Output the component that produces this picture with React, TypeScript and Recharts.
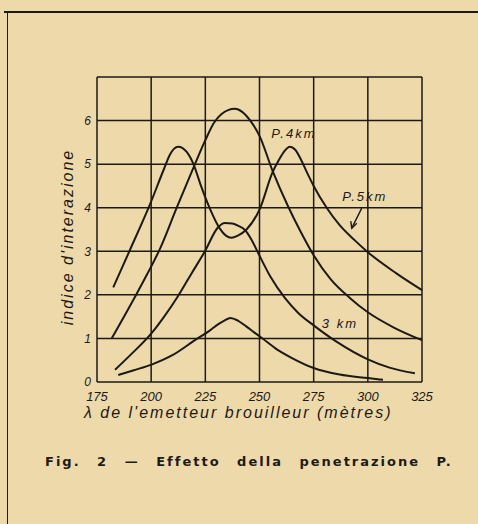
import { LineChart, Line, XAxis, YAxis, CartesianGrid, ReferenceDot } from 'recharts';

// wavelength of the interfering transmitter (m) and interference index, per curve
const p5Lambda = [182.5, 190.2, 199.4, 206, 208.7, 210.5, 212.5, 214.5, 216.4, 219.7, 223, 227.1, 231.7, 234.5, 237.1, 240, 244, 250.2, 256, 259, 261.5, 264, 266.5, 269, 272, 275, 281, 287, 294, 300, 313, 325];
const p5Index = [2.17, 3.03, 4.07, 4.9, 5.22, 5.35, 5.4, 5.37, 5.28, 4.98, 4.5, 3.98, 3.52, 3.36, 3.31, 3.36, 3.5, 3.98, 4.81, 5.1, 5.3, 5.4, 5.33, 5.12, 4.8, 4.5, 4.0, 3.6, 3.25, 2.98, 2.5, 2.11];

const p4Lambda = [181.8, 192.5, 198, 204, 211.8, 220.2, 225, 229, 232.5, 235.5, 238.7, 242, 246, 250, 256, 263, 269, 275, 283, 291.7, 300, 312, 325];
const p4Index = [1.0, 1.95, 2.46, 3.05, 4.0, 5.0, 5.55, 5.95, 6.15, 6.24, 6.27, 6.2, 5.98, 5.65, 4.85, 4.05, 3.45, 2.91, 2.35, 1.93, 1.6, 1.25, 0.96];

const p3Lambda = [183.3, 190, 200.2, 206, 212.5, 218.5, 224.8, 230.7, 234, 237.5, 240.5, 243.3, 246.5, 249.5, 255, 261.7, 268, 275, 285.7, 300, 310, 321.7];
const p3Index = [0.28, 0.6, 1.12, 1.5, 1.98, 2.48, 3.0, 3.54, 3.65, 3.64, 3.58, 3.49, 3.25, 2.95, 2.42, 1.93, 1.58, 1.3, 0.92, 0.52, 0.33, 0.2];

const p2Lambda = [184.8, 192, 200.2, 210, 220.2, 227, 231, 233.8, 236.5, 240, 244, 247.5, 251.1, 258, 265, 275, 287, 300, 307];
const p2Index = [0.16, 0.27, 0.4, 0.62, 0.96, 1.18, 1.33, 1.41, 1.47, 1.41, 1.27, 1.14, 1.01, 0.75, 0.55, 0.32, 0.17, 0.09, 0.05];

const xTicks = [175, 200, 225, 250, 275, 300, 325];
const yTicks = [0, 1, 2, 3, 4, 5, 6, 7];

const zip = (xs: number[], ys: number[]) => xs.map((x, i) => ({ x, y: ys[i] }));

const ink = '#1d1a15';
const paper = '#eed9ab';
const hand = '"Liberation Sans", "DejaVu Sans", sans-serif';

const Label = ({ text, size = 13 }: { text: string; size?: number }) => (props: any) => {
  const { cx, cy } = props;
  return (
    <text x={cx} y={cy} textAnchor="middle" dominantBaseline="middle" fontFamily={hand}
      fontStyle="italic" fontSize={size} fill={ink} letterSpacing={2}>
      {text}
    </text>
  );
};

const Arrow = (props: any) => {
  const { cx, cy } = props;
  // short pointer from the P=5km label down to its curve
  const x2 = cx - 10, y2 = cy + 20;
  return (
    <g stroke={ink} strokeWidth={1.4} fill="none">
      <line x1={cx} y1={cy} x2={x2} y2={y2} />
      <path d={`M${x2 - 1},${y2 - 7} L${x2},${y2} L${x2 + 5},${y2 - 5}`} />
    </g>
  );
};

export default function App() {
  const series = [
    zip(p5Lambda, p5Index),
    zip(p4Lambda, p4Index),
    zip(p3Lambda, p3Index),
    zip(p2Lambda, p2Index),
  ];
  return (
    <div style={{ position: 'fixed', left: 0, top: 0, width: 478, height: 524, background: paper, overflow: 'hidden' }}>
      <div style={{ position: 'absolute', left: 4, top: 11, width: 480, borderTop: `2px solid ${ink}` }} />
      <div style={{ position: 'absolute', left: 7, top: 11, height: 520, borderLeft: `1.5px solid ${ink}` }} />
      <div style={{ position: 'absolute', left: 0, top: 0 }}>
        <LineChart width={478} height={440} margin={{ top: 77, right: 56, left: 57, bottom: 28 }}>
          <CartesianGrid stroke={ink} strokeWidth={1.5} />
          <XAxis type="number" dataKey="x" domain={[175, 325]} ticks={xTicks} axisLine={false} tickLine={false}
            height={30} tickMargin={4}
            tick={{ fill: ink, fontSize: 13, fontStyle: 'italic', fontFamily: hand }} />
          <YAxis type="number" dataKey="y" domain={[0, 7]} ticks={yTicks} axisLine={false} tickLine={false}
            width={40} tickMargin={2} tickSize={4}
            tickFormatter={(v: number) => (v === 7 ? '' : String(v))}
            tick={{ fill: ink, fontSize: 12, fontStyle: 'italic', fontFamily: hand }} />
          {series.map((d, i) => (
            <Line key={i} data={d} dataKey="y" type="monotone" stroke={ink} strokeWidth={2}
              dot={false} activeDot={false} isAnimationActive={false} />
          ))}
          <ReferenceDot x={265.9} y={5.67} r={0} shape={Label({ text: 'P.4km' })} />
          <ReferenceDot x={298.6} y={4.24} r={0} shape={Label({ text: 'P.5km' })} />
          <ReferenceDot x={297.2} y={3.99} r={0} shape={Arrow} />
          <ReferenceDot x={287.1} y={1.31} r={0} shape={Label({ text: '3 km' })} />
        </LineChart>
      </div>
      <div style={{ position: 'absolute', left: 68, top: 237, width: 0, height: 0 }}>
        <div style={{ position: 'absolute', transform: 'translate(-50%, -50%) rotate(-90deg)', fontFamily: hand,
          fontStyle: 'italic', fontSize: 16, color: ink, letterSpacing: 2, whiteSpace: 'nowrap' }}>
          indice d'interazione
        </div>
      </div>
      <div style={{ position: 'absolute', left: 84, top: 404, fontFamily: hand, fontStyle: 'italic', fontSize: 16,
        color: ink, letterSpacing: 2, whiteSpace: 'nowrap' }}>
        λ de l'emetteur brouilleur (mètres)
      </div>
      <div style={{ position: 'absolute', left: 45, top: 454, fontFamily: '"DejaVu Sans", sans-serif', fontWeight: 'bold',
        fontSize: 13, color: ink, letterSpacing: 2, wordSpacing: 10, whiteSpace: 'nowrap' }}>
        Fig. 2 — Effetto della penetrazione P.
      </div>
    </div>
  );
}
